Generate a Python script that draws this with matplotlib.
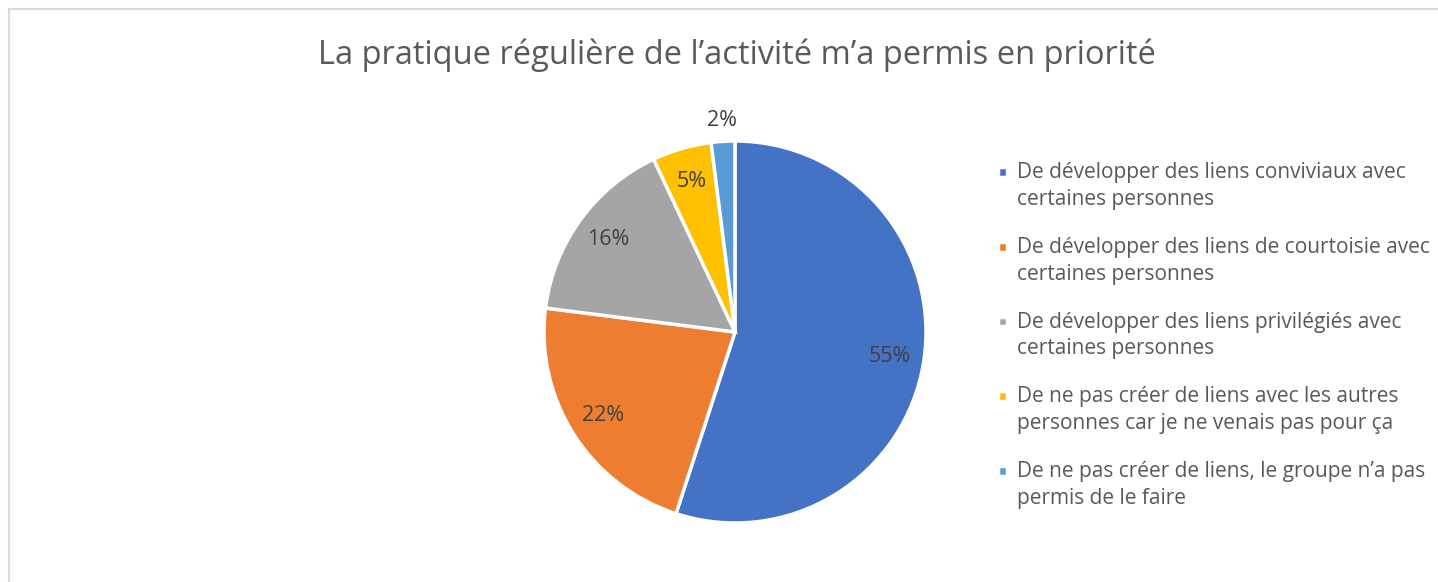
import matplotlib

matplotlib.use("Agg")
import numpy as np
import matplotlib.pyplot as plt
from matplotlib.lines import Line2D
from matplotlib.patches import Rectangle
from matplotlib.legend_handler import HandlerPatch

title = "La pratique régulière de l\u2019activité m\u2019a permis en priorité"
labels = [
    "De développer des liens conviviaux avec\ncertaines personnes",
    "De développer des liens de courtoisie avec\ncertaines personnes",
    "De développer des liens privilégiés avec\ncertaines personnes",
    "De ne pas créer de liens avec les autres\npersonnes car je ne venais pas pour ça",
    "De ne pas créer de liens, le groupe n\u2019a pas\npermis de le faire",
]
shares = [55, 22, 16, 5, 2]
colors = ["#4472C4", "#ED7D31", "#A5A5A5", "#FFC000", "#5B9BD5"]

W, H = 1438, 582
plt.rcParams["font.family"] = ["Open Sans", "DejaVu Sans"]
text_color = "#595959"

fig = plt.figure(figsize=(W / 100, H / 100), dpi=100, facecolor="white")
ax = fig.add_axes([0, 0, 1, 1])

cx, cy, r = 735, H - 332, 191
wedges, _ = ax.pie(
    shares, colors=colors, startangle=90, counterclock=False,
    center=(cx, cy), radius=r,
    wedgeprops=dict(edgecolor="white", linewidth=2.5),
)
ax.set_xlim(0, W)
ax.set_ylim(0, H)
ax.set_aspect("equal")
ax.axis("off")

# percentage labels placed along each wedge's mid angle
for w, v in zip(wedges, shares):
    mid = np.deg2rad((w.theta1 + w.theta2) / 2)
    d = 0.82 if v >= 5 else 1.11
    ax.text(cx + d * r * np.cos(mid), cy + d * r * np.sin(mid), f"{v}%",
            ha="center", va="center", fontsize=15.5, color="#404040")

fig.text(737 / W, 1 - 55 / H, title, ha="center", va="center",
         fontsize=23.5, color=text_color)


def square_marker(legend, orig_handle, xdescent, ydescent, width, height, fontsize):
    # small square aligned with the first line of a two-line label
    s = 7.0
    return Rectangle((-xdescent + (width - s) / 2 + 1.5, -ydescent + 10.5 + (height - s) / 2),
                     s, s, facecolor=orig_handle.get_facecolor(), edgecolor="none")


leg = ax.legend(
    wedges, labels, loc="upper left", bbox_to_anchor=(987 / W, 1 - 154 / H),
    frameon=False, fontsize=15, labelcolor=text_color,
    handlelength=0.5, handleheight=0.5, handletextpad=0.55,
    labelspacing=1.3, borderaxespad=0,
    handler_map={matplotlib.patches.Wedge: HandlerPatch(patch_func=square_marker)},
)
for t in leg.get_texts():
    t.set_linespacing(1.35)

# chart area frame (top and left edges visible)
fig.add_artist(Line2D([9 / W, 1], [1 - 9 / H] * 2, color="#d9d9d9", lw=1.5))
fig.add_artist(Line2D([9 / W] * 2, [0, 1 - 9 / H], color="#d9d9d9", lw=1.5))

fig.savefig("out.png", dpi=100, facecolor="white")
